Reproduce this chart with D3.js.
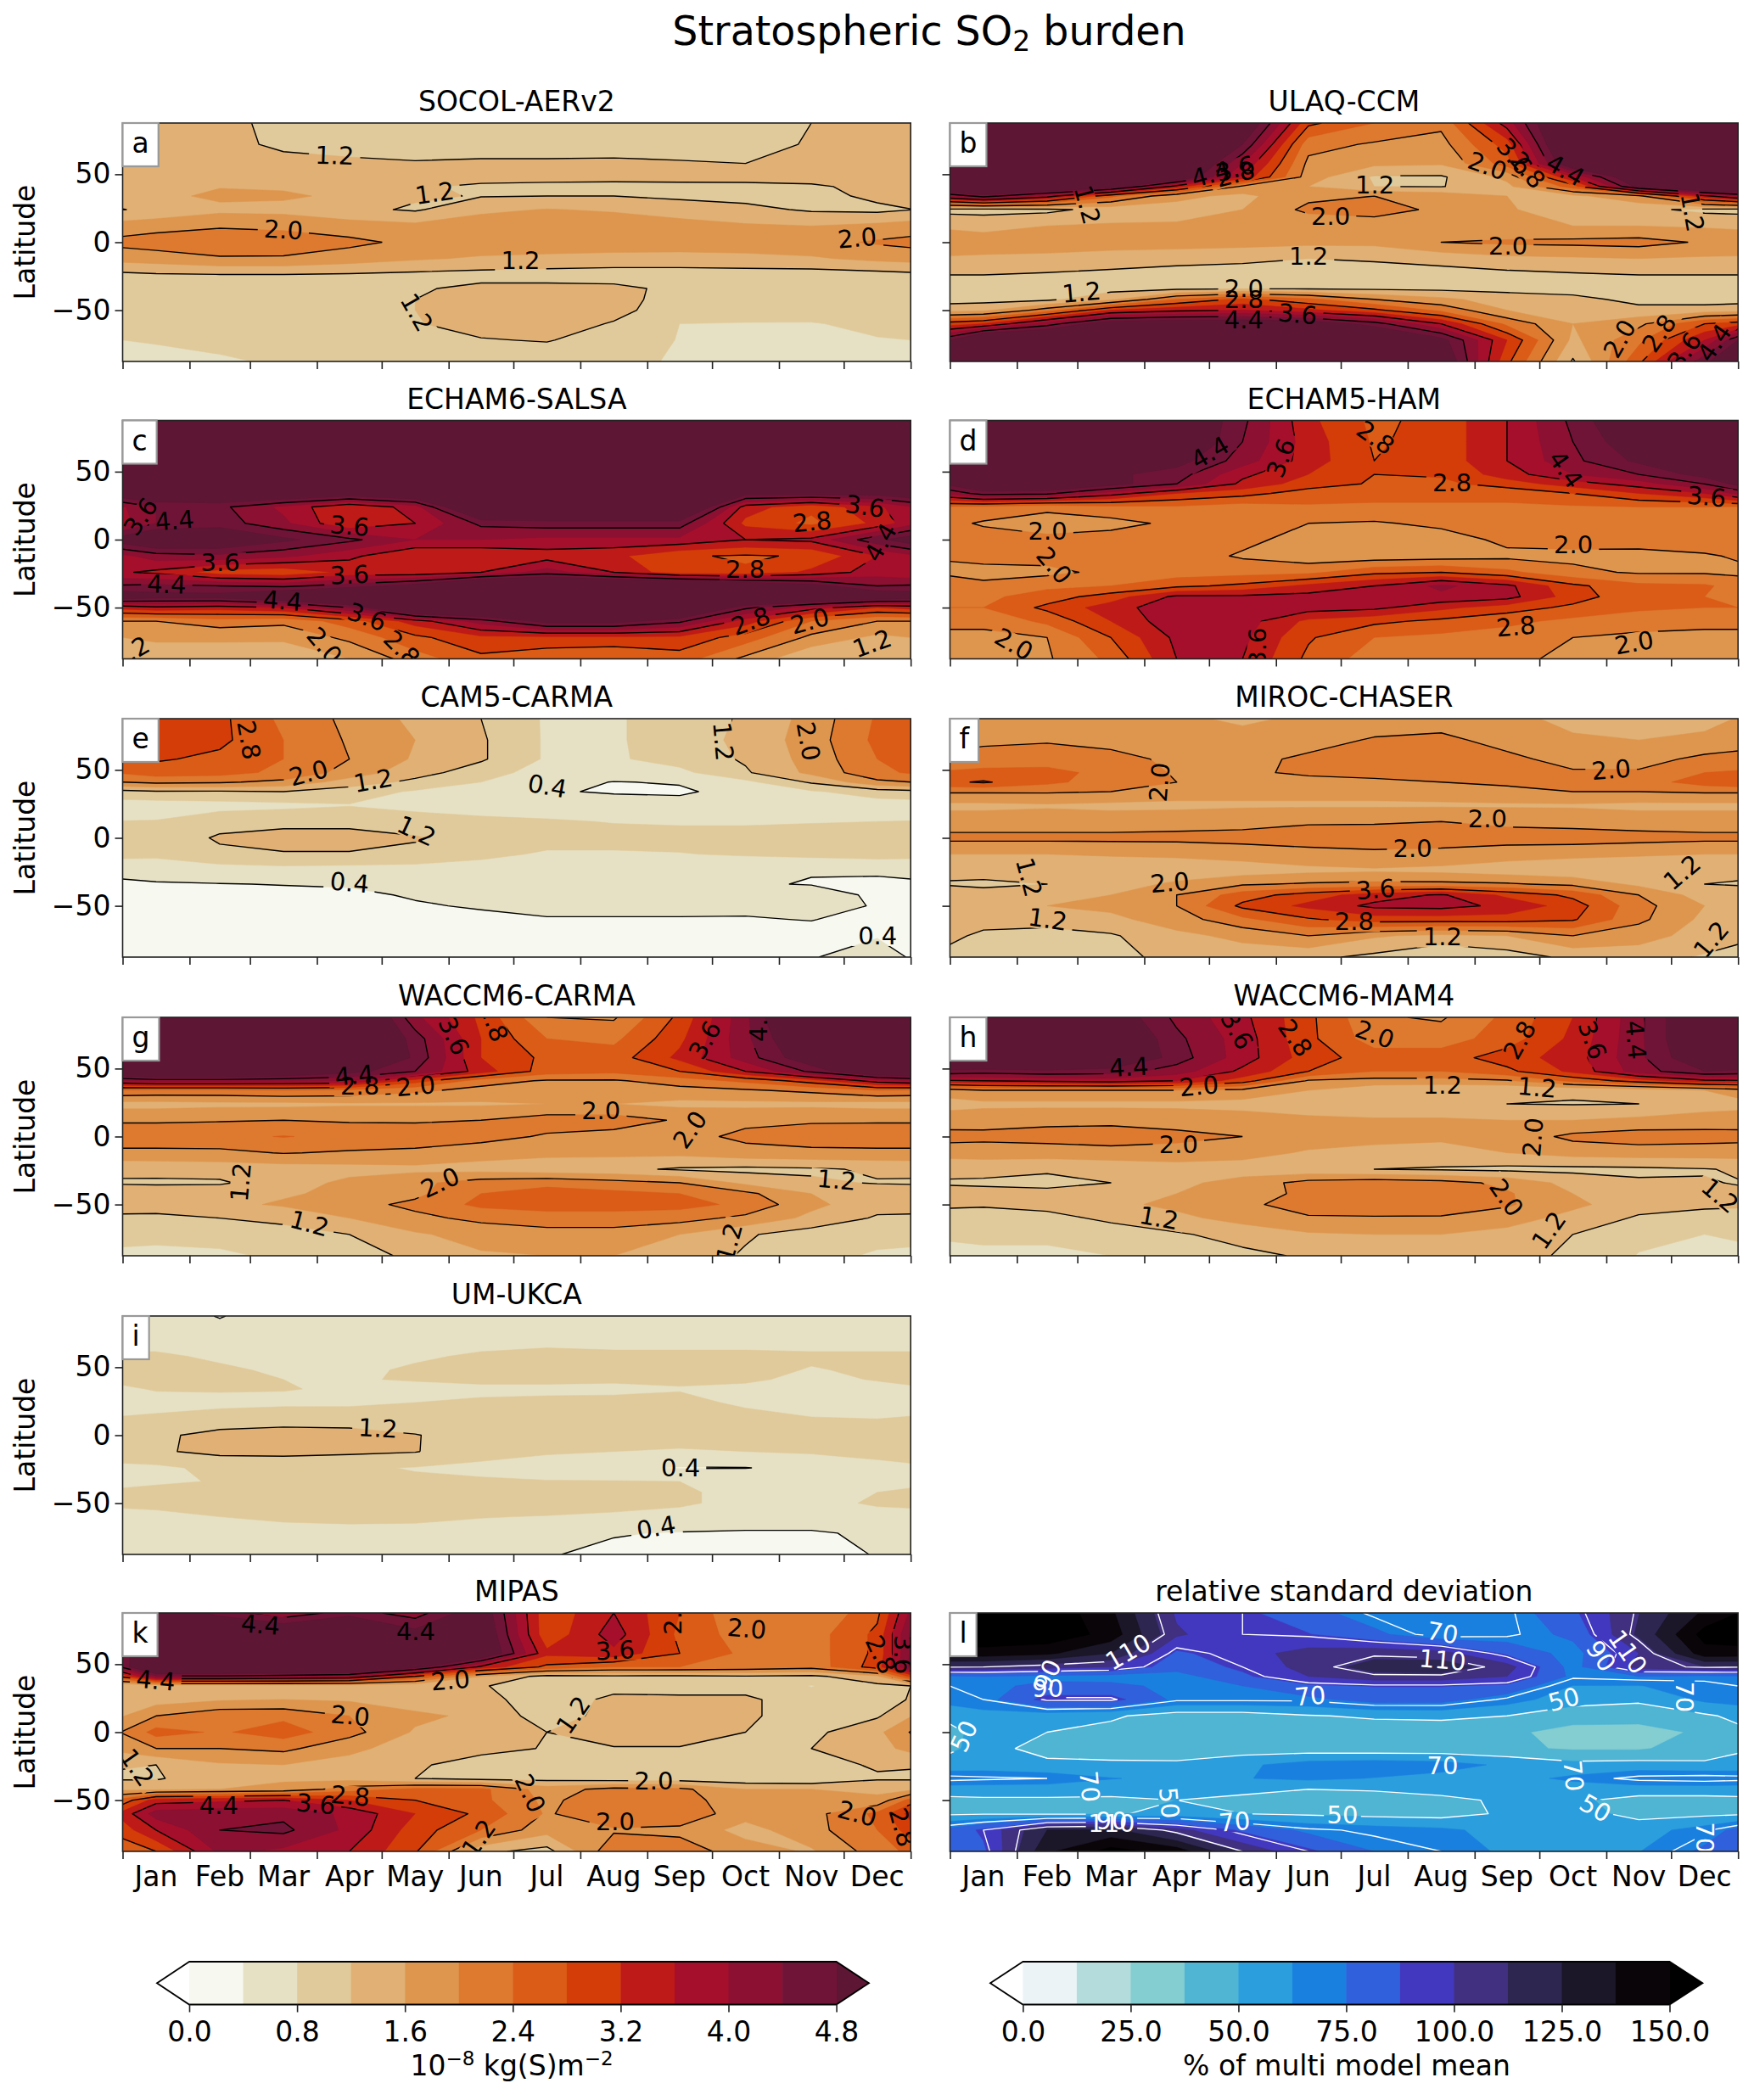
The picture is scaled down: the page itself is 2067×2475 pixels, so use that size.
<!DOCTYPE html>
<html><head><meta charset="utf-8">
<script src="https://cdn.jsdelivr.net/npm/d3@7"></script>
<style>html,body{margin:0;background:#fff}svg{display:block}text{font-family:"DejaVu Sans",sans-serif;fill:#000}</style>
</head><body><div id="c"></div>
<script>
const months=["Jan","Feb","Mar","Apr","May","Jun","Jul","Aug","Sep","Oct","Nov","Dec"];
const monthDays=[31,28,31,30,31,30,31,31,30,31,30,31];
const lats=[87.7,72,58,48,41,34,24,12,0,-12,-24,-34,-42,-50,-60,-72,-87.7];
const burdenLevels=[0,.4,.8,1.2,1.6,2,2.4,2.8,3.2,3.6,4,4.4,4.8];
const burdenColors=["#f7f8ef","#e6e1c4","#e0ca9b","#e0b074","#de964f","#dd7a30","#da5c16","#d43c08","#be1a17","#a50f2c","#8c1032","#701437","#5d1634"];
const burdenLines=[.4,1.2,2,2.8,3.6,4.4];
const rsdLevels=[0,12.5,25,37.5,50,62.5,75,87.5,100,112.5,125,137.5,150];
const rsdColors=["#ebf3f6","#b5dcdc","#84cdd1","#4fb5d3","#2b9edd","#1a80df","#3060db","#4238c0","#40307f","#2d2650","#1b1628","#0a0508","#000000"];
const rsdLines=[50,70,90,110];

const socol=[
[1.3,1.25,1.15,1.1,1.1,1.1,1.1,1.1,1.1,1.1,1.2,1.3],
[1.35,1.28,1.15,1.1,1.08,1.08,1.08,1.1,1.1,1.12,1.22,1.33],
[1.35,1.32,1.28,1.25,1.22,1.24,1.24,1.24,1.22,1.2,1.22,1.3],
[1.45,1.48,1.45,1.35,1.32,1.3,1.3,1.3,1.32,1.33,1.33,1.38],
[1.5,1.58,1.55,1.4,1.24,1.15,1.12,1.1,1.1,1.1,1.15,1.3],
[1.5,1.68,1.66,1.52,1.25,1.18,1.2,1.2,1.12,1.08,1.05,1.3],
[1.28,1.5,1.48,1.3,1.15,1.5,1.62,1.55,1.42,1.3,1.15,1.1],
[1.85,1.95,1.9,1.78,1.7,1.85,1.9,1.85,1.75,1.65,1.6,1.7],
[2.2,2.3,2.25,2.1,1.9,1.85,1.85,1.85,1.82,1.8,1.88,2.05],
[1.8,1.95,1.95,1.8,1.65,1.55,1.5,1.45,1.45,1.5,1.55,1.7],
[1.15,1.18,1.18,1.15,1.1,1.05,1.02,1,1,1,1,1.05],
[1.05,1.05,1.05,1.08,1.15,1.3,1.32,1.3,1.1,1.05,1.02,1.02],
[1.02,1.02,1.04,1.08,1.2,1.35,1.38,1.3,1.08,1.02,1,1],
[1,1,1.02,1.06,1.2,1.35,1.4,1.28,1.05,.98,.95,.98],
[.95,.98,1.02,1.05,1.18,1.32,1.32,1.18,.8,.78,.78,.88],
[.82,.9,1,1.02,1.08,1.18,1.22,1.05,.78,.74,.74,.78],
[.72,.75,.85,.95,1,1,1,.92,.75,.72,.72,.72]];
const ulaq=[
[6,6,6,6,5.5,2.9,2.4,2.1,3.8,6,6,6],
[6,6,6,6,4.8,2.15,1.95,1.85,3,6,6,6],
[6,6,6,6,4,1.9,1.7,1.65,2.6,5.5,6,6],
[6,6,5.8,5.5,3.5,1.8,1.15,1.15,1.7,3.6,5.5,6],
[6,5.8,5.2,3.4,1.9,1.6,1.2,1.18,1.5,2.6,5,6],
[4.6,3.8,2.5,1.7,1.5,1.9,2,1.85,1.6,1.5,1.9,3.5],
[1.05,1.1,1.35,1.45,1.6,2.1,2.2,1.9,1.65,1.35,1.3,1.1],
[1.5,1.6,1.65,1.65,1.65,1.7,1.75,1.65,1.6,1.6,1.6,1.55],
[1.75,1.8,1.8,1.8,1.75,1.7,1.7,2,2.08,2.1,2.15,1.95],
[1.55,1.5,1.4,1.32,1.28,1.2,1.25,1.35,1.5,1.55,1.6,1.55],
[1.2,1.15,1.1,1.05,1.02,1,1,1.02,1.08,1.15,1.2,1.2],
[1,1.02,1.05,1.1,1.15,1.15,1.12,1.1,1.08,1.05,1,.95],
[1.05,1.1,1.5,2.4,2.9,2.5,2,1.7,1.4,1.3,1.1,1],
[1.5,2.2,3.2,3.5,3.6,3.3,2.9,2.3,1.6,1.4,1.3,1.4],
[3.2,4.2,5.2,5.3,5.3,5.2,4.6,3.6,2.3,1.6,1.9,2.8],
[6,6,6,6,6,6,5.8,5,3.2,1.5,2.3,3.6],
[6,6,6,6,6,6,6,5.4,2.9,1.15,2.7,4.7]];
const echam6=[
[6,6,6,6,6,6,6,6,6,6,6,6],
[6,6,6,6,6,6,6,6,6,6,6,6],
[6,6,6,6,6,6,6,6,6,6,6,6],
[6,6,6,6,6,6,6,6,6,6,6,6],
[6,6,6,6,6,6,6,6,6,6,6,6],
[5.5,5.5,5.5,5.2,5.5,6,6,6,6,5,5,5],
[4.4,4.5,3.9,3.2,3.8,6,6,6,6,3.4,2.9,3.5],
[4.4,4.6,4.1,3.2,3.6,4.5,4.6,4.6,4.6,3.1,2.7,3.3],
[5.5,5.4,4.9,4.5,4,4,3.9,3.9,3.9,3.6,3.7,4.7],
[4.2,4.3,4.1,3.7,3.2,3.2,3.4,3.3,2.85,2.75,2.85,3.6],
[3.5,3,2.9,3.3,3.3,3.6,4.2,3.6,2.9,2.85,3.3,3.8],
[4.5,4.4,4.3,4.6,5,6,6,6,6,5.5,5,4.4],
[5,5,5.5,6,6,6,6,6,6,6,5.8,5.3],
[3.5,3.4,3.6,4.4,6,6,6,6,6,4.5,3.8,3.2],
[2,2.2,2.1,2.6,3.4,4.2,5,5,4.5,3.4,2.4,2],
[1.7,1.7,1.7,2.1,2.7,3.1,3.1,3.1,3.1,2.6,1.9,1.5],
[1.25,1.25,1.2,1.6,2.2,2.7,2.5,2.4,2.6,1.9,1.2,1.2]];
const echam5=[
[6,6,6,5.5,4.5,3.3,2.7,2.95,3.6,4.5,5.5,6],
[6,6,6,5.5,4.4,3.4,2.75,2.95,3.6,4.4,5.2,6],
[6,6,5.5,5,4.2,3.4,2.8,2.95,3.6,4.3,4.9,5.5],
[5.5,5,4.9,4.6,3.7,3.2,2.8,2.85,3.4,4,4.4,5],
[5.5,5.5,5,4.4,3.5,3,2.75,2.7,3,3.4,3.8,4.4],
[4.6,4.5,3.8,3.2,2.95,2.6,2.5,2.5,2.5,2.8,3.2,3.6],
[2.3,2.1,2.3,2.35,2.2,2.35,2.35,2.35,2.35,2.35,2.4,2.4],
[1.95,1.8,1.85,2.1,2.15,2,1.95,2.1,2.2,2.2,2.2,2.25],
[2.2,2.1,2.2,2.2,2.1,1.85,1.75,1.8,2.1,2.15,2.2,2.25],
[2.15,2.15,2.2,2.2,1.95,1.75,1.75,1.8,1.9,1.9,1.85,1.95],
[1.85,1.9,2.1,2.2,2.25,2.3,2.7,2.8,2.5,2.1,1.95,1.95],
[2.1,2.3,2.4,2.7,2.9,3.3,3.6,4.1,3.7,2.9,2.5,2.45],
[2.3,2.6,3,3.7,3.7,3.75,3.8,3.9,3.75,3,2.5,2.4],
[2.4,2.9,3.4,3.9,3.8,3.8,3.7,3.3,3,2.7,2.5,2.4],
[2.1,2.5,3.2,3.9,3.8,3.1,2.9,2.7,2.5,2.3,2.1,2.1],
[1.9,2,2.8,3.7,3.7,2.85,2.4,2.3,2.2,2,1.95,1.9],
[1.9,1.95,2.5,3.6,3.6,2.7,2.2,2.1,2.05,1.95,1.8,1.9]];
const cam5=[
[3,2.9,2.3,1.9,1.5,1.2,.75,.75,1,1.25,1.75,2.45],
[3,2.9,2.4,1.95,1.6,1.25,.75,.75,1,1.3,1.8,2.5],
[2.85,2.7,2.4,2,1.55,1.25,.75,.75,.95,1.25,1.75,2.4],
[2.6,2.55,2.3,1.85,1.35,1,.6,.55,.7,1.15,1.7,2.3],
[2.1,2.05,1.9,1.4,1.1,.8,.5,.39,.42,.7,1.25,1.9],
[1.15,1.15,1.2,1,.75,.6,.42,.38,.36,.5,.75,1],
[.6,.65,.7,.78,.65,.6,.55,.5,.5,.55,.6,.6],
[.82,1.05,1.12,1.12,1.02,.9,.85,.78,.75,.75,.78,.8],
[.95,1.25,1.3,1.3,1.23,1.05,.95,.95,.95,.95,.95,.95],
[.9,1.12,1.18,1.18,1.12,.9,.75,.75,.78,.85,.9,.95],
[.5,.6,.65,.62,.6,.6,.55,.55,.5,.4,.41,.45],
[.38,.39,.41,.42,.46,.5,.52,.52,.48,.42,.39,.33],
[.3,.32,.33,.36,.42,.48,.5,.5,.48,.46,.5,.36],
[.25,.25,.25,.3,.38,.42,.48,.48,.48,.46,.5,.38],
[.2,.2,.2,.25,.3,.35,.38,.38,.38,.38,.41,.3],
[.15,.15,.15,.2,.25,.28,.28,.28,.28,.28,.3,.38],
[.2,.15,.15,.2,.22,.25,.25,.25,.25,.3,.38,.55]];
const miroc=[
[1.8,1.75,1.7,1.65,1.55,1.65,1.7,1.8,1.7,1.5,1.45,1.45],
[1.9,1.95,1.85,1.75,1.7,1.8,2.05,2.1,1.85,1.65,1.6,1.7],
[2.2,2.25,2.15,1.9,1.85,2.1,2.25,2.3,2.1,1.85,1.85,2.1],
[2.5,2.5,2.3,1.95,1.95,2.05,2.15,2.2,2.2,2.05,2.05,2.4],
[2.85,2.5,2.2,2,1.9,1.9,1.9,2,2.1,2.2,2.2,2.6],
[2.05,2.05,2,1.8,1.7,1.7,1.7,1.75,1.85,2,2,2.05],
[1.5,1.55,1.5,1.5,1.55,1.55,1.55,1.55,1.55,1.55,1.5,1.5],
[1.8,1.8,1.8,1.85,1.85,1.95,1.95,2,1.9,1.85,1.8,1.8],
[2.1,2.1,2.1,2.1,2.15,2.2,2.25,2.25,2.2,2.2,2.15,2.1],
[1.6,1.6,1.65,1.7,1.75,1.85,1.9,1.85,1.75,1.7,1.65,1.6],
[1.3,1.25,1.25,1.25,1.4,1.5,1.55,1.5,1.4,1.3,1.25,1.25],
[1.15,1.2,1.35,1.7,1.95,2.05,2.1,2.1,2.05,1.9,1.5,1.2],
[1.3,1.4,1.6,2,2.6,3,3.4,3.65,3.1,2.7,2,1.4],
[1.5,1.6,1.7,2,2.9,3.3,3.7,3.75,3.5,3,2.15,1.6],
[1.35,1.3,1.5,1.8,2.3,2.75,3,3,3,2.85,2.1,1.5],
[1.12,1.1,1.15,1.5,1.7,2,1.65,1.5,1.6,2,1.75,1.45],
[1,.95,1.1,1.3,1.4,1.3,1.1,.78,1,1.3,1.4,1.15]];
const waccmCarma=[
[6,6,6,6,4.1,3.1,2,1.95,2.9,4.3,6,6],
[6,6,6,6,4.6,3.2,2.4,2.3,3.1,4.3,5.5,6],
[6,6,6,6,4.7,3.2,2.7,2.6,3.3,4.2,5.2,6],
[5.8,5.8,5.5,5,4.4,3.4,2.6,2.5,2.8,3.6,4.5,5.5],
[4.2,4.2,4.1,4,3,2.2,1.95,1.95,2.2,2.5,3,3.8],
[2.3,2.3,2.4,2.3,2.1,1.85,1.75,1.75,1.85,1.95,2.1,2.4],
[1.45,1.5,1.5,1.55,1.55,1.55,1.6,1.6,1.5,1.5,1.5,1.45],
[1.95,1.97,2,1.95,1.95,2,2.2,2.2,1.95,1.9,1.95,1.95],
[2.25,2.3,2.42,2.3,2.25,2.15,1.95,1.85,1.85,2.1,2.2,2.25],
[1.9,1.9,2.02,1.95,1.9,1.75,1.7,1.7,1.7,1.85,1.9,1.9],
[1.3,1.35,1.4,1.45,1.5,1.45,1.35,1.3,1.15,1.1,1.15,1.25],
[1.15,1.15,1.4,1.7,1.9,2.2,2.3,2.15,2,1.5,1.25,1.18],
[1.4,1.45,1.55,1.7,1.9,2.4,2.55,2.5,2.4,2.1,1.6,1.4],
[1.4,1.5,1.65,1.85,2.1,2.5,2.6,2.6,2.55,2.3,1.7,1.35],
[1.1,1.2,1.3,1.6,1.9,2.1,2.2,2.2,2.15,1.9,1.5,1.15],
[.85,.9,1.05,1.2,1.55,1.75,1.85,1.85,1.6,1.25,1,.85],
[.75,.75,.85,1.1,1.25,1.55,1.6,1.6,1.45,1.15,.85,.78]];
const waccmMam=[
[6,6,5.2,4.3,3.7,2.9,2.05,1.95,2.5,3.2,4.3,5.5],
[6,6,5.5,4.5,3.8,2.9,2.2,2.2,2.6,3.3,4.3,5.5],
[6,6,5.5,4.6,3.8,3,2.6,2.6,3,3.4,4.3,5.3],
[4.6,4.7,4.6,4.2,3.5,2.8,2.4,2.4,2.7,3.3,4.2,4.8],
[3.6,3.7,3.8,3.6,3,1.95,1.85,1.85,1.95,2.5,3,3.5],
[2,2,2,2,1.9,1.6,1.3,1.22,1.2,1.25,1.35,1.6],
[1.5,1.5,1.5,1.5,1.45,1.35,1.3,1.3,1.2,1.18,1.2,1.4],
[1.85,1.9,1.9,1.85,1.8,1.7,1.65,1.65,1.6,1.6,1.7,1.8],
[2.1,2.15,2.2,2.1,2,1.8,1.7,1.65,1.75,2.1,2.2,2.15],
[1.8,1.8,1.85,1.85,1.75,1.55,1.5,1.5,1.6,1.75,1.8,1.8],
[1.3,1.25,1.3,1.4,1.4,1.3,1.2,1.15,1.1,1.1,1.12,1.18],
[1.15,1.1,1.2,1.5,1.75,2.15,2.25,2.15,1.9,1.45,1.25,1.22],
[1.3,1.3,1.4,1.6,1.8,2.1,2.2,2.2,2.05,1.6,1.3,1.2],
[1.25,1.35,1.5,1.7,1.9,2.2,2.3,2.25,2.05,1.7,1.35,1.3],
[1,1.05,1.3,1.5,1.75,1.95,1.95,1.95,1.8,1.45,1.15,1],
[.85,.85,.95,1.15,1.35,1.55,1.6,1.6,1.45,1.2,.9,.8],
[.75,.75,.8,.95,1.1,1.25,1.35,1.35,1.3,1.15,.78,.75]];
const ukca=[
[.6,.38,.6,.65,.65,.65,.65,.65,.65,.65,.65,.65],
[.65,.55,.6,.65,.65,.65,.7,.7,.7,.7,.65,.65],
[.85,.75,.65,.65,.75,.85,.88,.85,.85,.85,.85,.85],
[.95,.85,.75,.72,.85,.95,.95,.95,.95,.9,.78,.85],
[.9,.88,.8,.78,.82,.88,.88,.85,.85,.85,.72,.82],
[.82,.85,.82,.75,.72,.72,.72,.72,.78,.72,.68,.7],
[.7,.65,.7,.72,.8,.85,.88,.9,.88,.75,.65,.65],
[.85,1.05,1.1,1.05,.95,.95,.95,.95,.92,.9,.82,.8],
[1.15,1.28,1.3,1.32,1.22,1,1,1,1,1,1,.98],
[1.15,1.3,1.3,1.28,1.22,.95,.85,.8,.75,.8,.85,.9],
[.72,.9,.95,.85,.78,.7,.6,.45,.38,.39,.5,.7],
[.75,.82,.8,.85,.85,.85,.82,.82,.8,.7,.65,.7],
[.9,.95,.95,.95,.95,.95,.95,.95,.85,.7,.65,.8],
[.9,.95,1,1,1,1,1,.95,.85,.7,.68,.85],
[.7,.8,.85,.88,.88,.82,.78,.72,.68,.6,.6,.65],
[.65,.68,.7,.7,.68,.6,.55,.42,.38,.36,.36,.46],
[.6,.6,.6,.6,.55,.55,.42,.33,.32,.3,.33,.41]];
const mipas=[
[5.5,4.6,4.1,4.6,4.2,5.2,2.9,3.6,2.8,2,2,2.7],
[6,6,5.5,6,5,5.4,2.9,3.8,2.7,2.2,2.2,2.9],
[6,6,6,6,6,5.5,3.3,3.5,2.8,2.3,2.2,2.9],
[6,6,6,6,5,3.5,2.7,2.4,2.4,2.3,2.15,3],
[4.3,4.3,4.2,4,2.8,1.6,1.05,1.12,1.1,1.15,1.1,1.5],
[1.3,1.3,1.3,1.3,1.25,1.25,.85,1.05,1.1,1.1,.78,1.1],
[1.4,1.55,1.6,1.55,1.35,1.35,.95,1.3,1.25,1.25,1.05,1.05],
[2,2.3,2.3,2,1.7,1.5,1,1.35,1.4,1.25,1.05,1.15],
[2.55,2.35,2.6,2.15,1.55,1.45,1.2,1.35,1.35,1.2,1.1,1.5],
[2,2,2.1,1.7,1.4,1.3,1.18,1.18,1.18,1.15,1.2,1.45],
[1.2,1.55,1.6,1.45,1.25,1.05,.85,.9,1,1.05,1.05,1.25],
[1.15,1.5,1.55,1.45,1.2,1.05,1.05,.95,.95,.9,.85,1.15],
[1.5,1.6,1.7,2.2,2.5,2.5,1.8,2.15,2.1,1.6,1.6,1.5],
[3.4,3.5,3.6,3.2,2.8,2.5,1.9,2.3,2.2,1.7,1.6,1.7],
[4.2,4.3,4.3,3.9,3.2,2.7,1.95,2.35,2.3,1.75,1.85,2.5],
[3.6,4.4,4.5,3.9,3,2.4,1.75,1.95,1.9,1.45,1.85,2.4],
[2.8,4.1,3.9,3.6,2.85,1.3,1.05,2.3,2.2,1.8,1.55,2.2]];
const rsd=[
[160,160,140,98,90,80,68,65,68,85,112,140],
[160,160,145,102,90,88,78,65,68,78,115,155],
[145,140,125,85,95,105,108,105,85,70,100,145],
[110,105,100,80,90,105,118,120,105,70,105,112],
[75,72,70,70,85,100,108,108,100,72,75,72],
[72,78,78,72,75,85,88,88,85,62,62,68],
[70,92,92,72,72,72,80,80,68,55,52,65],
[58,55,52,44,44,49,52,53,50,43,43,48],
[54,50,46,42,42,42,42,42,40,33,32,40],
[53,47,45,44,43,43,42,42,40,36,36,44],
[55,52,52,52,60,68,70,68,60,54,55,52],
[72,70,63,60,62,65,62,58,58,65,73,75],
[56,56,56,54,52,50,51,54,56,56,56,56],
[48,48,47,50,48,44,45,47,52,52,46,46],
[49,48,48,55,50,48,46,45,52,55,46,47],
[90,125,128,105,85,72,68,65,58,55,57,68],
[85,135,155,145,110,90,75,70,60,58,62,78]];

const labelsA=[["1.2",.269,63.7,2],["1.2",.396,36,-8],["2.0",.204,9,3],["2.0",.932,3,-5],["1.2",.505,-13.7,0],["1.2",.373,-51.6,60]];
const labelsB=[["1.2",.174,27.5,75],["4.4",.331,50,-15],["3.6",.362,54,-15],["2.8",.362,50,-15],["1.2",.539,42,0],["2.0",.483,19,0],["2.0",.682,56,20],["3.6",.716,63,50],["2.8",.733,53,50],["4.4",.781,53,30],["1.2",.942,22,80],["2.0",.708,-2.6,0],["1.2",.455,-10,0],["1.2",.167,-37,-5],["2.0",.373,-34,0],["2.8",.373,-42,0],["4.4",.373,-57,0],["3.6",.441,-53,5],["2.0",.85,-71,-60],["2.8",.9,-67,-55],["3.6",.932,-80,-55],["4.4",.97,-74,-55]];
const labelsC=[["3.6",.023,17,-55],["4.4",.066,14,-5],["3.6",.288,10,5],["2.8",.875,13,-5],["3.6",.942,24.4,8],["4.4",.962,-2,-60],["3.6",.124,-17,0],["4.4",.056,-33,2],["3.6",.288,-26,-3],["2.8",.79,-22,0],["4.4",.203,-45,5],["3.6",.31,-57,20],["2.8",.797,-60,-20],["2.0",.872,-60,-15],["1.2",.951,-76.5,-20],["2.0",.256,-78,50],["2.8",.354,-80,45],["1.2",.01,-83,-30]];
const labelsD=[["4.4",.33,64,-30],["3.6",.42,60,-70],["2.8",.54,75,35],["2.8",.637,42,0],["4.4",.781,51.6,55],["3.6",.96,31.5,5],["2.0",.124,6,0],["2.0",.132,-19,50],["2.0",.791,-4,0],["2.0",.081,-77,30],["3.6",.39,-79,-90],["2.8",.718,-64,-5],["2.0",.868,-76,-10]];
const labelsE=[["2.8",.16,72,80],["2.0",.236,47.6,-15],["1.2",.318,42,-10],["0.4",.539,38,10],["1.2",.762,71,85],["2.0",.87,71,80],["1.2",.373,5,25],["0.4",.288,-33,5],["0.4",.958,-72,0]];
const labelsF=[["2.0",.266,41,-85],["2.0",.839,50,-5],["2.0",.682,14,0],["2.0",.587,-8,0],["1.2",.1,-29,75],["2.0",.279,-33,-5],["1.2",.929,-25.5,-40],["3.6",.54,-38,-5],["2.8",.513,-61.6,0],["1.2",.124,-60,8],["1.2",.625,-73,0],["1.2",.966,-75,-50]];
const labelsG=[["3.6",.42,74,65],["2.8",.471,84,70],["3.6",.739,71,-60],["4.4",.807,84,-90],["4.4",.294,45,-5],["2.8",.301,37,0],["2.0",.372,37,-5],["2.0",.607,19,0],["2.0",.72,5,-55],["1.2",.15,-33.5,-85],["2.0",.403,-34,-25],["1.2",.906,-32,5],["1.2",.237,-64,15],["1.2",.77,-78,-75]];
const labelsH=[["3.6",.364,78,60],["2.8",.438,72.5,55],["2.0",.539,75,20],["2.8",.723,71,-60],["3.6",.815,71,70],["4.4",.87,71,85],["4.4",.227,51,-3],["2.0",.316,37,-5],["1.2",.625,38,0],["1.2",.745,36,5],["2.0",.29,-6,0],["2.0",.74,-.5,-85],["1.2",.265,-60,10],["2.0",.706,-45,55],["1.2",.76,-69,-55],["1.2",.977,-43.5,40]];
const labelsI=[["1.2",.324,5,3],["0.4",.708,-24,0],["0.4",.677,-68,-10]];
const labelsK=[["4.4",.175,79,5],["4.4",.372,74,0],["4.4",.042,38,5],["2.0",.416,38,-5],["3.6",.625,60,-3],["2.8",.698,86,-90],["2.0",.792,76,5],["1.2",.572,12.6,-55],["2.0",.289,12,5],["1.2",.018,-26,55],["2.8",.962,57,65],["3.6",.99,57,90],["2.0",.517,-45,65],["2.0",.674,-36,0],["2.0",.625,-66,0],["4.4",.122,-54,0],["3.6",.245,-53,5],["2.8",.289,-47,5],["1.2",.452,-78,-55],["2.0",.932,-60,15],["2.8",.989,-70,75]];
const labelsL=[["110",.226,59,-30],["90",.124,42,-65],["90",.124,32,0],["70",.457,26.5,-5],["110",.625,53,5],["70",.625,73,10],["90",.826,56,55],["110",.86,59,55],["50",.779,24,-15],["70",.932,26,90],["50",.018,-3,-65],["70",.625,-24.5,0],["70",.791,-32,85],["70",.177,-40,85],["50",.278,-52,85],["70",.361,-66,-5],["50",.498,-61,0],["50",.819,-56,30],["90",.205,-65,0],["110",.205,-67,0],["70",.958,-77.5,90]];

const W=2067,H=2475,panelW=928.7,panelH=281;
const colX=[144.5,1119.5],rowY=[145,495.5,847,1199,1551,1901];
const panels=[
 {t:"SOCOL-AERv2",k:"a",c:0,r:0,d:socol,l:labelsA},{t:"ULAQ-CCM",k:"b",c:1,r:0,d:ulaq,l:labelsB},
 {t:"ECHAM6-SALSA",k:"c",c:0,r:1,d:echam6,l:labelsC},{t:"ECHAM5-HAM",k:"d",c:1,r:1,d:echam5,l:labelsD},
 {t:"CAM5-CARMA",k:"e",c:0,r:2,d:cam5,l:labelsE},{t:"MIROC-CHASER",k:"f",c:1,r:2,d:miroc,l:labelsF},
 {t:"WACCM6-CARMA",k:"g",c:0,r:3,d:waccmCarma,l:labelsG},{t:"WACCM6-MAM4",k:"h",c:1,r:3,d:waccmMam,l:labelsH},
 {t:"UM-UKCA",k:"i",c:0,r:4,d:ukca,l:labelsI},
 {t:"MIPAS",k:"k",c:0,r:5,d:mipas,l:labelsK,bottom:true},
 {t:"relative standard deviation",k:"l",c:1,r:5,d:rsd,l:labelsL,bottom:true,rsd:true}];

const FS=33,LFS=29;
const svg=d3.select("#c").append("svg").attr("width",W).attr("height",H).attr("viewBox",`0 0 ${W} ${H}`);
const defs=svg.append("defs");

const cum=[0];monthDays.forEach(d=>cum.push(cum[cum.length-1]+d));
const monthEdge=cum.map(d=>d/365);
const monthMid=monthDays.map((d,i)=>(cum[i]+d/2)/365);
const colFrac=[0,...monthMid,1];

panels.forEach((p,pi)=>{
 const x0=colX[p.c],y0=rowY[p.r];
 const g=svg.append("g").attr("transform",`translate(${x0},${y0})`);
 const xS=d3.scaleLinear().domain([0,1]).range([0,panelW]);
 const yS=d3.scaleLinear().domain([87.7,-87.7]).range([0,panelH]);
 const levels=p.rsd?rsdLevels:burdenLevels,cols=p.rsd?rsdColors:burdenColors,lineLv=p.rsd?rsdLines:burdenLines;
 // close the year cyclically for the two plot edges
 const grid=p.d.map(r=>{const e=(r[0]+r[11])/2;return [e,...r,e];});
 const nx=grid[0].length,ny=grid.length,flat=grid.flat();
 const gx=d3.scaleLinear().domain([0,...d3.range(nx).map(i=>i+.5),nx]).range([xS(0),...colFrac.map(xS),xS(1)]);
 const gy=d3.scaleLinear().domain([0,...d3.range(ny).map(i=>i+.5),ny]).range([yS(lats[0]),...lats.map(yS),yS(lats[ny-1])]);
 const cg=d3.contours().size([nx,ny]);
 const clipId="clip"+pi,maskId="mask"+pi;
 defs.append("clipPath").attr("id",clipId).append("rect").attr("width",panelW).attr("height",panelH);
 const plot=g.append("g").attr("clip-path",`url(#${clipId})`);
 plot.append("rect").attr("width",panelW).attr("height",panelH).attr("fill","#fff");
 const ringPath=r=>r.map(q=>[gx(q[0]),gy(q[1])]);
 levels.forEach((lv,i)=>{
  const c=cg.contour(flat,lv);
  const dstr=c.coordinates.map(poly=>poly.map(r=>"M"+ringPath(r).map(q=>q[0].toFixed(2)+","+q[1].toFixed(2)).join("L")+"Z").join("")).join("");
  plot.append("path").attr("d",dstr).attr("fill",cols[i]).attr("stroke",cols[i]).attr("stroke-width",.5).attr("fill-rule","evenodd");
 });
 // masks opening the contour lines around labels
 const mask=defs.append("mask").attr("id",maskId).attr("maskUnits","userSpaceOnUse").attr("x",0).attr("y",0).attr("width",panelW).attr("height",panelH);
 mask.append("rect").attr("width",panelW).attr("height",panelH).attr("fill","#fff");
 p.l.forEach(l=>{const w=l[0].length*LFS*.58+10;
  mask.append("rect").attr("x",-w/2).attr("y",-LFS*.42).attr("width",w).attr("height",LFS*.84).attr("fill","#000")
   .attr("transform",`translate(${xS(l[1])},${yS(l[2])}) rotate(${l[3]})`);});
 const lineG=plot.append("g").attr("mask",`url(#${maskId})`);
 const eps=.01;
 const sameEdge=(a,b)=>(a[0]<=eps&&b[0]<=eps)||(a[0]>=panelW-eps&&b[0]>=panelW-eps)||(a[1]<=eps&&b[1]<=eps)||(a[1]>=panelH-eps&&b[1]>=panelH-eps);
 const ink=p.rsd?"#fff":"#000";
 lineLv.forEach(lv=>{
  let dstr="";
  cg.contour(flat,lv).coordinates.forEach(poly=>poly.forEach(r=>{
   const pts=ringPath(r);let pen=false;
   for(let i=1;i<pts.length;i++){
    const a=pts[i-1],b=pts[i];
    if(sameEdge(a,b)){pen=false;continue;}
    if(!pen){dstr+="M"+a[0].toFixed(2)+","+a[1].toFixed(2);pen=true;}
    dstr+="L"+b[0].toFixed(2)+","+b[1].toFixed(2);
   }
  }));
  lineG.append("path").attr("d",dstr).attr("fill","none").attr("stroke",ink).attr("stroke-width",1.4).attr("stroke-linejoin","round");
 });
 plot.selectAll("text.cl").data(p.l).join("text").attr("class","cl")
  .attr("transform",l=>`translate(${xS(l[1])},${yS(l[2])}) rotate(${l[3]})`)
  .attr("text-anchor","middle").attr("dominant-baseline","central").attr("font-size",LFS)
  .style("fill",ink).text(l=>l[0]);
 // frame
 g.append("rect").attr("width",panelW).attr("height",panelH).attr("fill","none").attr("stroke","#222").attr("stroke-width",1.6);
 // axes
 const ax=d3.axisBottom(xS).tickValues(monthEdge).tickSize(9).tickFormat("");
 const ag=g.append("g").attr("transform",`translate(0,${panelH})`).call(ax);
 ag.select(".domain").remove();ag.selectAll("line").attr("stroke","#222").attr("stroke-width",1.6);
 const ay=d3.axisLeft(yS).tickValues([50,0,-50]).tickSize(9).tickFormat(v=>p.c===0?String(v).replace("-","\u2212"):"");
 const yg=g.append("g").call(ay);
 yg.select(".domain").remove();yg.selectAll("line").attr("stroke","#222").attr("stroke-width",1.6);
 yg.selectAll("text").attr("font-size",FS).attr("font-family",'"DejaVu Sans"').attr("dx",-2).style("fill","#000");
 if(p.c===0) g.append("text").attr("transform",`translate(${29-x0},${panelH/2}) rotate(-90)`).attr("text-anchor","middle").attr("dominant-baseline","central").attr("font-size",FS).text("Latitude");
 g.append("text").attr("x",panelW/2).attr("y",-14).attr("text-anchor","middle").attr("font-size",FS).text(p.t);
 if(p.bottom) g.selectAll("text.m").data(months).join("text").attr("class","m").attr("x",(d,i)=>xS(monthMid[i])).attr("y",panelH+41).attr("text-anchor","middle").attr("font-size",FS).text(d=>d);
 // letter box
 const lb=g.append("g");
 const rc=lb.append("rect").attr("fill","#fff").attr("stroke","#999").attr("stroke-width",2.2);
 const tx=lb.append("text").attr("x",11).attr("y",35).attr("font-size",FS).text(p.k);
 const tw=tx.node().getComputedTextLength();
 rc.attr("x",0).attr("y",0).attr("width",tw+22).attr("height",51);
});

// title
const ti=svg.append("text").attr("x",1095).attr("y",53).attr("text-anchor","middle").attr("font-size",47.5);
ti.append("tspan").text("Stratospheric SO");
ti.append("tspan").attr("font-size",33).attr("dy",7).text("2");
ti.append("tspan").attr("dy",-7).text(" burden");

function colorbar(x0,x1,tip0,tip1,levels,cols,tickVals,fmt,labelFn,labelX){
 const y0=2312,y1=2362.5,ym=(y0+y1)/2;
 const s=d3.scaleLinear().domain([levels[0],levels[levels.length-1]]).range([x0,x1]);
 const g=svg.append("g");
 g.append("path").attr("d",`M${x0},${y0}L${tip0},${ym}L${x0},${y1}Z`).attr("fill","#fff");
 g.append("path").attr("d",`M${x1},${y0}L${tip1},${ym}L${x1},${y1}Z`).attr("fill",cols[cols.length-1]);
 g.selectAll("rect").data(levels.slice(0,-1)).join("rect").attr("x",d=>s(d)).attr("y",y0)
  .attr("width",(d,i)=>s(levels[i+1])-s(d)+.5).attr("height",y1-y0).attr("fill",(d,i)=>cols[i]);
 g.append("path").attr("d",`M${x0},${y0}L${tip0},${ym}L${x0},${y1}L${x1},${y1}L${tip1},${ym}L${x1},${y0}Z`).attr("fill","none").attr("stroke","#000").attr("stroke-width",1.8);
 const a=g.append("g").attr("transform",`translate(0,${y1})`).call(d3.axisBottom(s).tickValues(tickVals).tickSize(9).tickFormat(fmt));
 a.select(".domain").remove();a.selectAll("line").attr("stroke","#222").attr("stroke-width",1.6);
 a.selectAll("text").attr("font-size",FS).attr("font-family",'"DejaVu Sans"').attr("dy",null).attr("y",43).style("fill","#000");
 labelFn(g.append("text").attr("x",labelX).attr("y",2446).attr("text-anchor","middle").attr("font-size",FS));
}
colorbar(223,985.6,185,1024,burdenLevels,burdenColors,[0,.8,1.6,2.4,3.2,4,4.8],d3.format(".1f"),t=>{
 t.append("tspan").text("10");t.append("tspan").attr("font-size",23).attr("dy",-12).text("\u22128");
 t.append("tspan").attr("dy",12).text(" kg(S)m");t.append("tspan").attr("font-size",23).attr("dy",-12).text("\u22122");
},603);
colorbar(1205.4,1967.5,1167,2006.4,rsdLevels,rsdColors,[0,25,50,75,100,125,150],d3.format(".1f"),t=>t.text("% of multi model mean"),1587);
</script></body></html>
